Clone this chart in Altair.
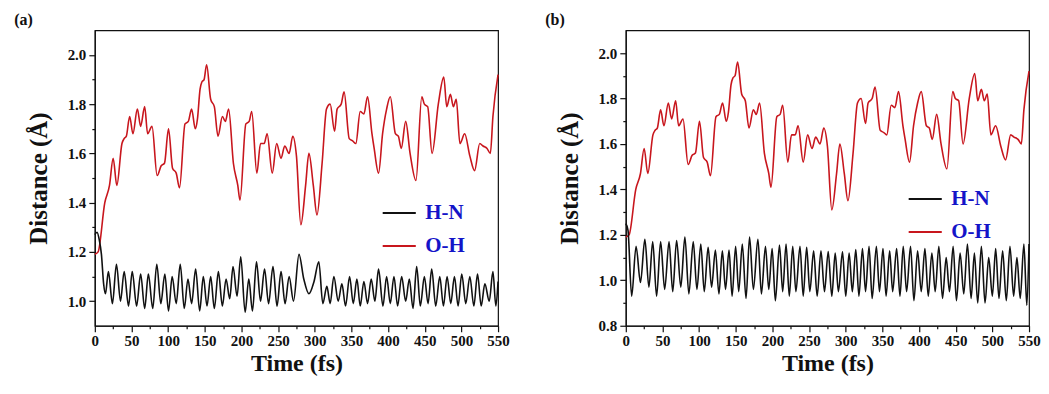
import altair as alt
import pandas as pd

# O-H distance (same trajectory shown in both panels)
oh_t = [0, 4.5, 13.6, 20, 25, 30, 37, 40, 43, 47.5, 52, 58, 62.5, 68, 72, 78, 85, 90.5, 95, 100.5,
        106, 111, 115.5, 123, 127.5, 132, 137, 140, 143.5, 146, 149, 152.5, 158, 163, 168, 174, 178,
        182.5, 189, 195, 198, 206, 210.5, 214, 221, 226, 231, 235, 242, 248, 254, 259, 265, 270, 275,
        281, 287.5, 292, 298, 303, 310, 316, 321, 327, 330.5, 336, 340, 347, 352, 356, 362, 367, 372,
        378, 381, 387, 392.5, 398, 403, 410, 414, 418, 424, 430, 438, 446, 449.5, 454, 460, 468.5,
        476, 480, 485, 489, 493, 498, 504.5, 511.5, 518, 525, 529.5, 535, 539.5, 543, 550]
oh_v = [1.19, 1.20, 1.40, 1.47, 1.58, 1.47, 1.64, 1.66, 1.67, 1.75, 1.68, 1.78, 1.71, 1.79, 1.68, 1.71,
        1.51, 1.55, 1.56, 1.70, 1.54, 1.52, 1.46, 1.72, 1.73, 1.78, 1.70, 1.74, 1.86, 1.89, 1.90, 1.96,
        1.82, 1.79, 1.67, 1.75, 1.73, 1.78, 1.56, 1.47, 1.41, 1.72, 1.73, 1.77, 1.52, 1.64, 1.64, 1.68,
        1.52, 1.64, 1.58, 1.63, 1.60, 1.67, 1.59, 1.31, 1.47, 1.60, 1.47, 1.35, 1.56, 1.78, 1.80, 1.69,
        1.78, 1.80, 1.85, 1.66, 1.65, 1.64, 1.77, 1.76, 1.83, 1.68, 1.62, 1.52, 1.68, 1.78, 1.83, 1.68,
        1.67, 1.62, 1.73, 1.60, 1.49, 1.83, 1.80, 1.79, 1.60, 1.80, 1.91, 1.79, 1.84, 1.79, 1.82, 1.64,
        1.68, 1.59, 1.53, 1.64, 1.63, 1.62, 1.60, 1.75, 1.92]

# H-N distance, panel (a)
hn_a_t = [0, 3, 6, 9, 12, 14.5, 18.5, 24, 29.5, 35, 40, 46, 51, 57, 62.5, 68, 73, 79, 84.5, 90, 95.5,
          100.5, 105.5, 111, 116.5, 122, 127, 132, 137.5, 143, 148, 153, 158, 163, 168.5, 174, 179,
          184, 188.5, 194, 199, 205, 210, 215, 220.5, 226, 231.5, 237, 243, 248.5, 254, 259.5, 265,
          271, 278.5, 285, 292, 299, 305.5, 311, 316.5, 321, 326, 332, 337, 342, 347.5, 352.5, 357.5,
          362, 367, 372, 377, 382, 387, 393, 398, 403, 408, 413, 418.5, 424, 429, 434, 439, 444, 449.5,
          454.5, 459.5, 465, 470.5, 475.5, 480.5, 485.5, 490.5, 495.5, 500.5, 506, 511.5, 517, 522,
          527, 532, 538, 543, 547, 550]
hn_a_v = [1.27, 1.28, 1.25, 1.19, 1.07, 1.03, 1.12, 0.99, 1.15, 1.00, 1.12, 0.98, 1.12, 0.98, 1.11,
          0.97, 1.11, 0.97, 1.15, 0.99, 1.11, 0.96, 1.10, 0.99, 1.15, 0.97, 1.09, 0.99, 1.13, 0.96, 1.10,
          0.98, 1.10, 0.97, 1.12, 0.98, 1.09, 1.01, 1.14, 1.02, 1.18, 0.955, 1.09, 0.96, 1.16, 1.00, 1.13,
          0.99, 1.14, 0.98, 1.12, 0.99, 1.10, 1.00, 1.19, 1.09, 1.03, 1.08, 1.16, 0.99, 1.06, 0.99, 1.10,
          1.00, 1.07, 0.98, 1.10, 0.99, 1.09, 0.98, 1.08, 0.99, 1.09, 1.00, 1.13, 0.98, 1.10, 0.99, 1.10,
          0.98, 1.10, 1.00, 1.09, 0.97, 1.14, 0.98, 1.10, 0.99, 1.13, 0.98, 1.10, 0.98, 1.10, 0.99, 1.10,
          0.98, 1.11, 0.99, 1.10, 0.98, 1.11, 0.98, 1.07, 1.00, 1.12, 0.98, 1.08]

# H-N distance, panel (b)
hn_b_t = [0, 3, 8, 14, 20, 26, 31.5, 36.7, 42, 47.5, 53, 59, 64, 69.3, 75, 80.6, 86, 92, 97, 102.3,
          107, 112.3, 117, 122.2, 127, 131.7, 136, 140.8, 145, 149.8, 154, 158.9, 164, 168.8, 174,
          180.2, 185, 190.5, 195, 199.6, 204, 209.6, 214, 218.6, 223, 227.7, 232, 237.6, 242, 246.7,
          251, 256.2, 261, 266.2, 271, 276.1, 281, 285.6, 290, 295.6, 300, 304.6, 309, 313.7, 318,
          322.8, 327, 331.8, 336, 341.8, 346, 350.8, 355, 359.9, 364, 369.4, 374, 378.4, 383, 388.4,
          393, 398, 403, 408, 412.5, 417.5, 422, 427, 432, 437, 441.5, 446.5, 451, 456, 461, 466, 471,
          475.5, 480, 485, 490, 495, 500, 504.5, 509, 514, 519, 524, 529, 533.5, 538, 543, 547, 550]
hn_b_v = [1.25, 1.22, 0.93, 1.15, 0.99, 1.18, 0.97, 1.17, 0.93, 1.17, 0.96, 1.17, 0.95, 1.175, 0.97,
          1.19, 0.94, 1.17, 0.96, 1.16, 0.95, 1.145, 0.97, 1.133, 0.94, 1.13, 0.96, 1.133, 0.93, 1.15,
          0.95, 1.16, 0.92, 1.19, 0.96, 1.18, 0.94, 1.15, 0.96, 1.14, 0.91, 1.155, 0.95, 1.16, 0.93,
          1.15, 0.95, 1.15, 0.93, 1.145, 0.95, 1.13, 0.93, 1.13, 0.95, 1.126, 0.93, 1.12, 0.95, 1.125,
          0.93, 1.12, 0.95, 1.135, 0.93, 1.14, 0.95, 1.15, 0.92, 1.15, 0.95, 1.14, 0.93, 1.13, 0.95,
          1.14, 0.93, 1.15, 0.95, 1.15, 0.91, 1.13, 0.95, 1.14, 0.93, 1.12, 0.95, 1.15, 0.92, 1.10, 0.95,
          1.15, 0.91, 1.12, 0.94, 1.16, 0.92, 1.12, 0.90, 1.15, 0.90, 1.10, 0.93, 1.14, 0.92, 1.13, 0.91,
          1.15, 0.93, 1.10, 0.92, 1.16, 0.89, 1.16]

series = ["H-N", "O-H"]
colors = ["#111111", "#c8161d"]

FONT = "Liberation Serif"
BLUE = "#1414c8"
INK = "#111111"


def frame(hn_t, hn_v):
    rows = [{"t": t, "d": v, "s": "O-H"} for t, v in zip(oh_t, oh_v)]
    rows += [{"t": t, "d": v, "s": "H-N"} for t, v in zip(hn_t, hn_v)]
    return pd.DataFrame(rows)


def panel(df, ydom, yvals, tag, lx, ly):
    return alt.Chart(df).mark_line(strokeWidth=1.6, interpolate="monotone").encode(
        x=alt.X("t:Q", scale=alt.Scale(domain=[0, 550], nice=False, zero=False),
                axis=alt.Axis(values=list(range(0, 551, 25)),
                              labelExpr="datum.value % 50 == 0 ? datum.label : ''",
                              tickSize={"condition": {"test": "datum.value % 50 == 0", "value": 6}, "value": 3},
                              title="Time (fs)", titleFontSize=24, titlePadding=3,
                              labelFlush=False, labelPadding=2)),
        y=alt.Y("d:Q", scale=alt.Scale(domain=ydom, nice=False, zero=False),
                axis=alt.Axis(values=yvals,
                              labelExpr="round(datum.value*10) % 2 == 0 ? format(datum.value, '.1f') : ''",
                              tickSize={"condition": {"test": "round(datum.value*10) % 2 == 0", "value": 6}, "value": 3},
                              title="Distance (Å)", titleFontSize=25, titlePadding=16,
                              labelFlush=False, labelPadding=3)),
        color=alt.Color("s:N", scale=alt.Scale(domain=series, range=colors),
                        legend=alt.Legend(title=None, orient="none", legendX=lx, legendY=ly,
                                          symbolType="stroke", symbolSize=1100, symbolStrokeWidth=2,
                                          labelFont=FONT, labelFontWeight="bold", labelFontSize=21,
                                          labelColor=BLUE, labelOffset=8, rowPadding=5, padding=0)),
    ).properties(
        width=404, height=296,
        title=alt.Title(tag, anchor="start", fontSize=16, font=FONT, fontWeight="bold",
                        dx=-12, offset=2, color=INK),
    )


yv_a = [round(1.0 + 0.1 * i, 1) for i in range(11)]
yv_b = [round(0.8 + 0.1 * i, 1) for i in range(13)]

pa = panel(frame(hn_a_t, hn_a_v), [0.9, 2.1], yv_a, "(a)", 287, 165)
pb = panel(frame(hn_b_t, hn_b_v), [0.8, 2.1], yv_b, "(b)", 282, 151)

chart = alt.hconcat(pa, pb, spacing=34).resolve_legend(color="independent").resolve_scale(
    y="independent", color="independent"
).properties(
    padding={"left": 5, "top": 3, "right": 0, "bottom": 0},
    background="white",
).configure_axis(
    labelFont=FONT, labelFontWeight="bold", labelFontSize=15, labelColor=INK,
    titleFont=FONT, titleFontWeight="bold", titleColor=INK,
    domainColor=INK, domainWidth=1.2, tickColor=INK, tickWidth=1.2, grid=False,
).configure_view(stroke=INK, strokeWidth=1.2)

chart.save("out.html", embed_options={"renderer": "svg", "actions": False})
